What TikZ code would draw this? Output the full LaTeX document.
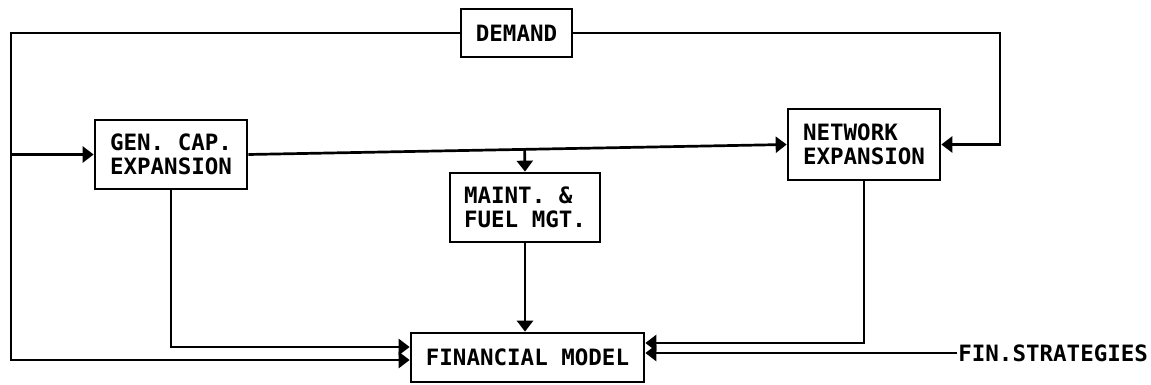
\documentclass[tikz,border=0pt]{standalone}
\usepackage{fontspec}
\setmonofont{DejaVu Sans Mono}
\usetikzlibrary{arrows.meta,calc}

\begin{document}
\begin{tikzpicture}[x=1pt,y=-1pt,
  line width=2.7pt,
  lbl/.style={font=\ttfamily\bfseries\fontsize{22.5}{23.5}\selectfont},
  box/.style={lbl,draw,inner sep=0pt,align=left},
  arr/.style={-{Triangle[length=11pt,width=16pt]}}]
  \useasboundingbox (0,0) rectangle (1151,385);

  % blocks
  \node[box,minimum width=111pt,minimum height=48pt] (dem) at (516.5,33) {DEMAND};
  \node[box,minimum width=152pt,minimum height=69pt] (gen) at (171,154.5) {GEN. CAP.\\EXPANSION};
  \node[box,minimum width=152pt,minimum height=71pt] (net) at (864,144.5) {NETWORK\\EXPANSION};
  \node[box,minimum width=150pt,minimum height=69pt] (mnt) at (525,207.5) {MAINT. \&\\FUEL MGT.};
  \node[box,minimum width=233pt,minimum height=49pt] (fin) at (527.5,357.5) {FINANCIAL MODEL};
  \node[lbl,inner sep=0pt,anchor=west] (fs) at (957,353) {FIN.STRATEGIES};

  % corner points of the outer feedback loops
  \coordinate (tl) at (11,33);
  \coordinate (bl) at (11,360);
  \coordinate (tr) at (1000,144.5);

  % demand feeds everything on the left and the network on the right
  \draw[arr] (dem.west) -- (tl) -- (bl) -- (bl -| fin.west);
  \draw[arr] (tl |- gen.west) -- (gen.west);
  \draw[arr] (dem.east) -| (tr) -- (net.east);

  % generation plan to network and maintenance
  \draw[arr] (gen.east) -- (net.west);
  \coordinate (br) at ($(gen.east)!(mnt.north)!(net.west)$);
  \draw[arr] (br) -- (mnt.north);

  % everything into the financial model
  \draw[arr] (mnt.south) -- (mnt.south |- fin.north);
  \draw[arr] (gen.south) |- ($(fin.west)+(0,-10.5)$);
  \draw[arr] (net.south) |- ($(fin.east)+(0,-14.5)$);
  \draw[arr] (fs.west) -- (fs.west -| fin.east);
\end{tikzpicture}
\end{document}
